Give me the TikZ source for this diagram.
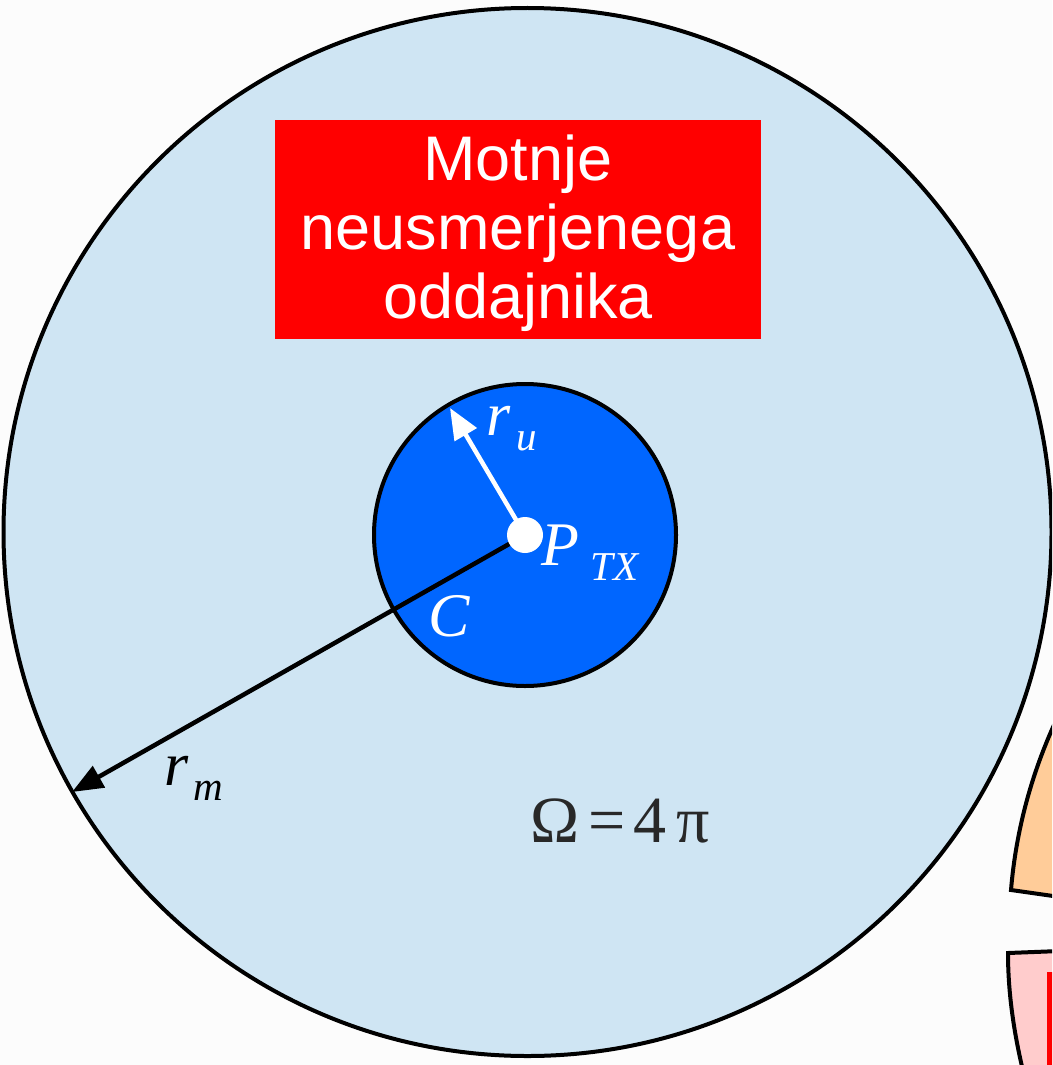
\documentclass[tikz,border=0pt]{standalone}
\usepackage{fontspec}
\setmainfont{Liberation Serif}
\newfontfamily\boxfont{Liberation Sans}
\usetikzlibrary{arrows.meta}
\definecolor{bg}{RGB}{252,252,252}
\definecolor{skyfill}{RGB}{207,229,243}
\definecolor{corefill}{RGB}{0,102,255}
\definecolor{orangefill}{RGB}{255,204,153}
\definecolor{pinkfill}{RGB}{255,204,204}
\definecolor{boxred}{RGB}{255,0,0}
\definecolor{omegagray}{RGB}{40,40,40}
\begin{document}
\begin{tikzpicture}[x=1pt,y=-1pt,
  outline/.style={draw=black,line width=4pt},
  lbl/.style={inner sep=0pt,anchor=base west},
  bigit/.style={lbl,font=\fontsize{62}{62}\selectfont\itshape},
  subit/.style={lbl,font=\fontsize{41}{41}\selectfont\itshape},
  titlebox/.style={fill=boxred,draw=none,minimum width=486pt,minimum height=219pt,inner sep=0pt},
  titletext/.style={inner sep=0pt,align=center,text=white,font=\boxfont\fontsize{63}{69}\selectfont}]
\useasboundingbox (0,0) rectangle (1052,1065);
\fill[bg] (0,0) rectangle (1052,1065);
\begin{scope}
\clip (0,0) rectangle (1052,1065);
% outer sphere
\coordinate (O) at (527.5,532);
\draw[outline,fill=skyfill] (O) circle[radius=524];
% partial neighbouring shapes on the right
\draw[outline,fill=orangefill] (1011,890) .. controls (1016,830) and (1032,770) .. (1060,712) -- (1060,897) -- cycle;
\draw[outline,fill=pinkfill] (1024,1075) .. controls (1013,1030) and (1008,990) .. (1008,953) -- (1060,951) -- (1060,1075) -- cycle;
\fill[boxred] (1047,972) rectangle (1060,1070);
\end{scope}
% inner circle C
\coordinate (Cc) at (525,535);
\draw[outline,fill=corefill] (Cc) circle[radius=151];
% title box
\node[titlebox] (title) at (518,229.5) {};
\node[titletext,anchor=north] (titletxt) at (518,135) {Motnje\\neusmerjenega\\oddajnika};
% radii arrows
\coordinate (rmtip) at (72,792);
\coordinate (rutip) at (450,408);
\draw[black,line width=4.5pt,-{Triangle[length=31pt,width=24pt]}] (Cc) -- (rmtip);
\draw[white,line width=4.5pt,-{Triangle[length=31pt,width=25pt]}] (Cc) -- (rutip);
\node[circle,fill=white,minimum size=36pt,inner sep=0pt] (dot) at (Cc) {};
% labels
\node[bigit,text=white] (ru) at (486,435) {r};
\node[subit,text=white] (rusub) at (516,450) {u};
\node[bigit,text=white] (P) at (541,565) {P};
\node[subit,text=white] (Psub) at (590,580) {TX};
\node[bigit,text=white] (Clbl) at (428,636) {C};
\node[bigit,text=black] (rm) at (164,785) {r};
\node[subit,text=black] (rmsub) at (193,800) {m};
\node[lbl,text=omegagray,font=\fontsize{66}{66}\selectfont] (omega) at (530,842) {Ω\hspace{9pt}=\hspace{8pt}4\hspace{10pt}π};
\end{tikzpicture}
\end{document}
